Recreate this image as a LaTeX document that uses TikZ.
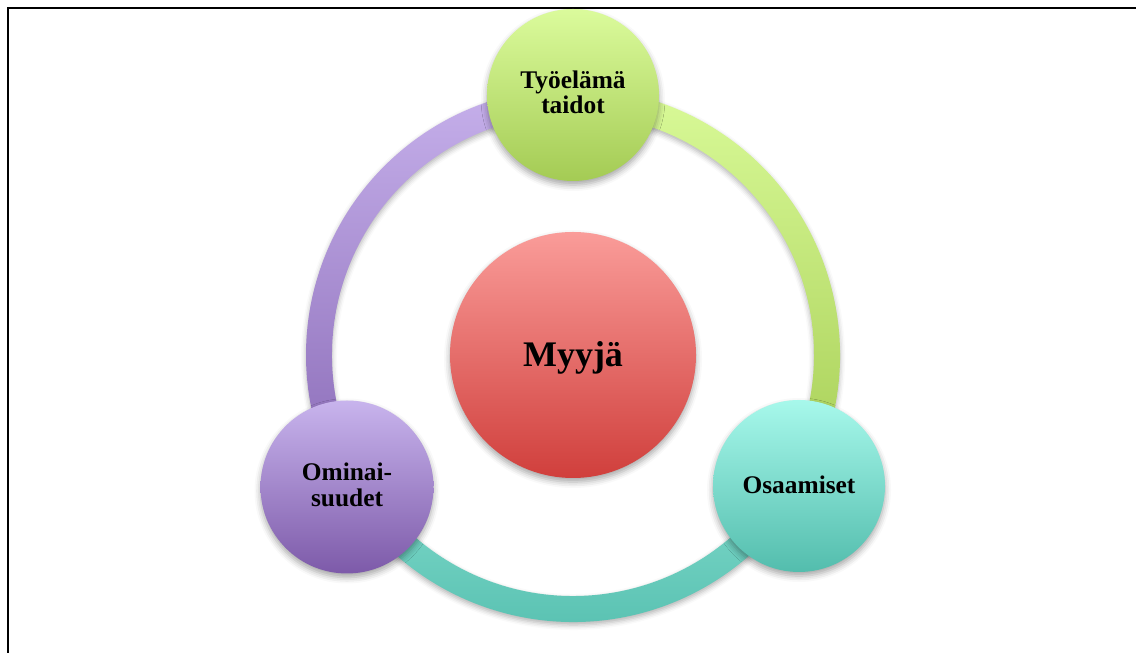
\documentclass[tikz,border=0pt]{standalone}
\usepackage{fontspec}
\setmainfont{Liberation Serif}
\usetikzlibrary{shadows.blur}

% circle fills (top -> bottom)
\definecolor{redTop}{RGB}{250,156,153}
\definecolor{redBot}{RGB}{208,63,60}
\definecolor{greenTop}{RGB}{219,251,156}
\definecolor{greenBot}{RGB}{164,203,84}
\definecolor{tealTop}{RGB}{167,248,235}
\definecolor{tealBot}{RGB}{83,189,173}
\definecolor{purpleTop}{RGB}{200,180,237}
\definecolor{purpleBot}{RGB}{125,90,169}
% ring segment fills
\definecolor{ringPurpleTop}{RGB}{198,176,235}
\definecolor{ringPurpleBot}{RGB}{137,106,182}
\definecolor{ringGreenTop}{RGB}{217,250,152}
\definecolor{ringGreenBot}{RGB}{166,205,84}
\definecolor{ringTealTop}{RGB}{128,218,203}
\definecolor{ringTealBot}{RGB}{82,189,173}

\begin{document}
\begin{tikzpicture}[x=1pt,y=1pt,
  softshadow/.style={blur shadow={shadow xshift=0pt,shadow yshift=-4pt,
      shadow blur radius=6pt,shadow opacity=35}},
  ringshadow/.style={blur shadow={shadow xshift=0pt,shadow yshift=-3pt,
      shadow blur radius=5pt,shadow opacity=30}},
  ballnode/.style={circle,inner sep=0pt,minimum size=#1,softshadow},
  lbl/.style={inner sep=0pt,anchor=base,font=\bfseries\fontsize{25.4}{25.5}\selectfont},
  biglbl/.style={inner sep=0pt,anchor=base,font=\bfseries\fontsize{36}{38}\selectfont},
  frame/.style={draw=black,line width=2pt}
]
\useasboundingbox (0,0) rectangle (1136,653);
\draw[frame] (8,645) rectangle (1150,-20);

% ring radii
\def\rin{241}
\def\rout{267}
\coordinate (o) at (573,298);

% ring segments, each running between two outer circles
\shade[top color=ringPurpleTop,bottom color=ringPurpleBot,ringshadow]
  ([shift={(90:\rout)}]o) arc[start angle=90,end angle=210,radius=\rout]
  -- ([shift={(210:\rin)}]o) arc[start angle=210,end angle=90,radius=\rin] -- cycle;
\shade[top color=ringGreenTop,bottom color=ringGreenBot,ringshadow]
  ([shift={(-30:\rout)}]o) arc[start angle=-30,end angle=90,radius=\rout]
  -- ([shift={(90:\rin)}]o) arc[start angle=90,end angle=-30,radius=\rin] -- cycle;
\shade[top color=ringTealTop,bottom color=ringTealBot,ringshadow]
  ([shift={(210:\rout)}]o) arc[start angle=210,end angle=330,radius=\rout]
  -- ([shift={(330:\rin)}]o) arc[start angle=330,end angle=210,radius=\rin] -- cycle;

% circles
\node[ballnode=246pt,top color=redTop,bottom color=redBot] (myyja) at (573,298) {};
\node[ballnode=172pt,top color=greenTop,bottom color=greenBot] (tyo) at (573,558) {};
\node[ballnode=173pt,top color=purpleTop,bottom color=purpleBot] (omi) at (347,166) {};
\node[ballnode=172pt,top color=tealTop,bottom color=tealBot] (osa) at (799,167) {};

% labels
\node[biglbl] (myyjaT) at ([yshift=-12pt]myyja.center) {Myyjä};
\node[lbl] (tyoA) at ([yshift=6pt]tyo.center) {Työelämä};
\node[lbl] (tyoB) at ([yshift=-19pt]tyo.center) {taidot};
\node[lbl] (omiA) at ([yshift=6pt]omi.center) {Ominai-};
\node[lbl] (omiB) at ([yshift=-20pt]omi.center) {suudet};
\node[lbl] (osaT) at ([yshift=-8pt]osa.center) {Osaamiset};
\end{tikzpicture}
\end{document}
